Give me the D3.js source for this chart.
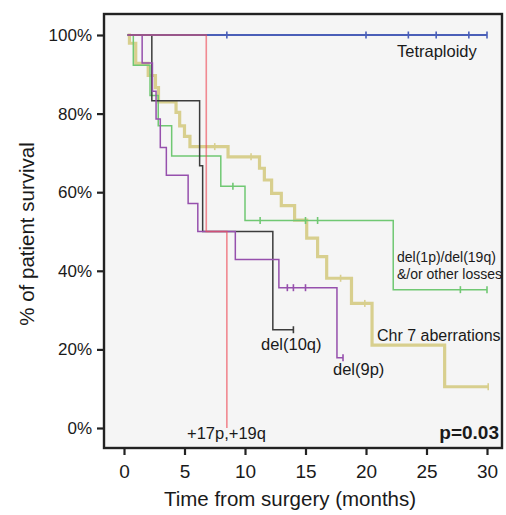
<!DOCTYPE html>
<html>
<head>
<meta charset="utf-8">
<script src="https://cdn.jsdelivr.net/npm/d3@7"></script>
<style>
  html, body { margin: 0; padding: 0; background: #ffffff; }
  svg { display: block; }
  text { font-family: "Liberation Sans", Arial, Helvetica, sans-serif; fill: #1a1a1a; }
</style>
</head>
<body>
<svg id="chart" width="506" height="515"></svg>
<script>
// ---------------- DATA ----------------
const xTicks = [0, 5, 10, 15, 20, 25, 30];
const yTicks = [0, 20, 40, 60, 80, 100];

// step curves: [time (months), survival % from that time on]
const tetraploidySteps = [[0.3, 100], [30.0, 100]];
const tetraploidyCensors = [8.5, 20.0, 23.5, 25.8, 28.5, 30.0];

const chr7Steps = [[0.3, 100], [0.45, 97.9], [0.97, 92.8], [2.0, 89.7], [2.6, 86.6], [2.85, 83.0],
  [4.3, 80.3], [4.6, 76.9], [5.0, 74.2], [5.45, 71.6], [8.6, 69.0], [11.2, 66.1], [11.6, 63.1],
  [12.2, 59.7], [13.0, 56.6], [14.1, 52.9], [15.1, 48.3], [16.0, 43.6], [16.75, 38.1],
  [18.8, 31.7], [20.5, 21.1], [26.5, 10.5], [30.1, 10.5]];
const chr7Censors = [7.5, 10.5, 17.9, 19.9, 30.1];

const delLossSteps = [[0.3, 100], [0.77, 92.3], [2.15, 84.6], [2.83, 76.9], [3.94, 69.2],
  [8.0, 61.5], [10.0, 52.8], [22.25, 35.2], [30.0, 35.2]];
const delLossCensors = [9.0, 11.25, 15.0, 16.0, 27.8, 30.0];

const del10qSteps = [[0.3, 100], [2.3, 83.3], [6.25, 66.7], [6.5, 50], [12.3, 25], [14.0, 25]];
const del10qCensors = [14.0];

const del9pSteps = [[0.3, 100], [1.5, 92.9], [2.35, 85.7], [2.65, 78.6], [3.0, 71.4], [3.5, 64.3],
  [5.3, 57.1], [6.1, 50], [9.2, 42.9], [12.8, 35.7], [17.6, 17.9], [18.1, 17.9]];
const del9pCensors = [13.5, 14.0, 15.0, 18.1];

const gainSteps = [[0.3, 100], [6.8, 50], [8.5, 0]];
const gainCensors = [];

// ---------------- CHART ----------------
const svg = d3.select("#chart");
const frame = { left: 104, top: 14, right: 502, bottom: 448 };

const x = d3.scaleLinear().domain([0, 30]).range([124, 487]);
const y = d3.scaleLinear().domain([0, 100]).range([428, 35]);

svg.append("rect")
  .attr("x", frame.left).attr("y", frame.top)
  .attr("width", frame.right - frame.left).attr("height", frame.bottom - frame.top)
  .attr("fill", "#f5f5f5");

const line = d3.line().x(d => x(d[0])).y(d => y(d[1])).curve(d3.curveStepAfter);

function levelAt(steps, t) {
  let s = steps[0][1];
  for (const p of steps) { if (p[0] <= t + 1e-9) s = p[1]; }
  return s;
}

function drawSeries(steps, censors, color, width, opacity) {
  const g = svg.append("g").attr("opacity", opacity);
  g.append("path").datum(steps)
    .attr("d", line).attr("fill", "none")
    .attr("stroke", color).attr("stroke-width", width);
  g.selectAll("line.c").data(censors).enter().append("line")
    .attr("x1", d => x(d)).attr("x2", d => x(d))
    .attr("y1", d => y(levelAt(steps, d)) - 3.5)
    .attr("y2", d => y(levelAt(steps, d)) + 3.5)
    .attr("stroke", color).attr("stroke-width", 1.6);
}

drawSeries(chr7Steps, chr7Censors, "#d8cf8e", 3.2, 1);
drawSeries(delLossSteps, delLossCensors, "#70c873", 1.5, 1);
drawSeries(del10qSteps, del10qCensors, "#3c3c3c", 1.5, 1);
drawSeries(del9pSteps, del9pCensors, "#9650ad", 1.5, 1);
drawSeries(tetraploidySteps, tetraploidyCensors, "#4a5fb8", 2.2, 1);
drawSeries(gainSteps, gainCensors, "#ee4f5a", 1.6, 0.65);

// frame
svg.append("rect")
  .attr("x", frame.left).attr("y", frame.top)
  .attr("width", frame.right - frame.left).attr("height", frame.bottom - frame.top)
  .attr("fill", "none").attr("stroke", "#222").attr("stroke-width", 2.4);

// axes
const xAxis = svg.append("g").attr("transform", `translate(0,${frame.bottom})`)
  .call(d3.axisBottom(x).tickValues(xTicks).tickSize(7).tickPadding(10));
xAxis.select(".domain").remove();
xAxis.selectAll(".tick line").attr("stroke", "#222").attr("stroke-width", 2.2);
xAxis.selectAll(".tick text").style("font-size", "19px").attr("fill", "#1a1a1a")
  .style("font-family", '"Liberation Sans", Arial, sans-serif');

const yAxis = svg.append("g").attr("transform", `translate(${frame.left},0)`)
  .call(d3.axisLeft(y).tickValues(yTicks).tickFormat(d => d + "%").tickSize(7).tickPadding(5));
yAxis.select(".domain").remove();
yAxis.selectAll(".tick line").attr("stroke", "#222").attr("stroke-width", 2.2);
yAxis.selectAll(".tick text").style("font-size", "17px").attr("fill", "#1a1a1a")
  .style("font-family", '"Liberation Sans", Arial, sans-serif');

// axis titles
svg.append("text").attr("x", 290).attr("y", 506).attr("text-anchor", "middle")
  .style("font-size", "20.5px").text("Time from surgery (months)");
svg.append("text").attr("transform", "translate(34,234) rotate(-90)").attr("text-anchor", "middle")
  .style("font-size", "20.5px").text("% of patient survival");

// annotations
const notes = [
  { t: "Tetraploidy", x: 397, y: 57, s: 16.5 },
  { t: "del(1p)/del(19q)", x: 397, y: 262, s: 14 },
  { t: "&/or other losses", x: 397, y: 279, s: 14 },
  { t: "Chr 7 aberrations", x: 377, y: 341, s: 16 },
  { t: "del(10q)", x: 261, y: 350, s: 16.5 },
  { t: "del(9p)", x: 333, y: 375, s: 16.5 },
  { t: "+17p,+19q", x: 187, y: 439, s: 16.5 }
];
svg.selectAll("text.note").data(notes).enter().append("text")
  .attr("class", "note").attr("x", d => d.x).attr("y", d => d.y)
  .style("font-size", d => d.s + "px").text(d => d.t);

svg.append("text").attr("x", 499).attr("y", 439).attr("text-anchor", "end")
  .style("font-size", "19px").style("font-weight", "bold").text("p=0.03");
</script>
</body>
</html>
